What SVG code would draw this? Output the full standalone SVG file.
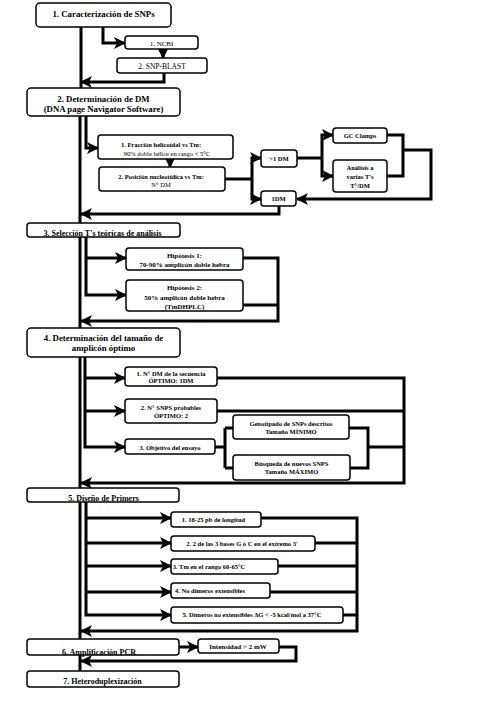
<svg xmlns="http://www.w3.org/2000/svg" width="504" height="703" viewBox="0 0 504 703">
<style>
.b{fill:#fff;stroke:#000;stroke-width:1.5}
.t{font-family:"Liberation Serif",serif;font-weight:bold;text-anchor:middle;fill:#000}
.m{font-size:8.8px}
.s{font-size:6.5px}
.n{font-weight:normal}
.c{fill:none;stroke:#000;stroke-width:3}
.a{marker-end:url(#ah)}
</style>
<defs>
<marker id="ah" markerUnits="userSpaceOnUse" markerWidth="12" markerHeight="12" refX="11" refY="6" orient="auto">
<path d="M0,0 L12,6 L0,12 L3,6 z" fill="#000"/>
</marker>
</defs>
<rect width="504" height="703" fill="#fff"/>
<g id="connectors">
<path class="c" d="M81,27 V88"/>
<path class="c" d="M80,116 V223"/>
<path class="c" d="M80,237 V328"/>
<path class="c" d="M80,357 V488"/>
<path class="c" d="M80,502 V639"/>
<path class="c" d="M80,655 V671"/>
<path class="c a" d="M103,27 V43 H125"/>
<path class="c a" d="M163,49 V58"/>
<path class="c a" d="M164,73 V82 H81"/>
<path class="c a" d="M86,116 V148 H98"/>
<path class="c a" d="M170,159 V167"/>
<path class="c" d="M225,179 H252"/>
<path class="c a" d="M252,179 V158 H261"/>
<path class="c a" d="M252,179 V199 H261"/>
<path class="c" d="M297,158 H322"/>
<path class="c a" d="M322,158 V135 H333"/>
<path class="c a" d="M322,158 V176 H333"/>
<path class="c" d="M387,135 H403 V176 H387"/>
<path class="c a" d="M403,150 H431 V199 H297"/>
<path class="c a" d="M279,206 V214 H81"/>
<path class="c a" d="M86,237 V295 H126"/>
<path class="c a" d="M86,258 H126"/>
<path class="c a" d="M243,258 H278 V321 H81"/>
<path class="c" d="M243,305 H278"/>
<path class="c a" d="M85,357 V447 H125"/>
<path class="c a" d="M85,378 H125"/>
<path class="c a" d="M85,411 H125"/>
<path class="c a" d="M217,378 H404 V483 H81"/>
<path class="c" d="M217,411 H404"/>
<path class="c" d="M215,447 H225 M225,428 V468 M225,428 H233 M225,468 H233"/>
<path class="c" d="M349,428 H368 V468 H350 M368,447 H404"/>
<path class="c a" d="M86,502 V615 H171"/>
<path class="c a" d="M86,518 H171"/>
<path class="c a" d="M86,543 H171"/>
<path class="c a" d="M86,566 H171"/>
<path class="c a" d="M86,592 H171"/>
<path class="c a" d="M261,518 H357 V631 H81"/>
<path class="c" d="M315,543 H357 M278,566 H357 M270,592 H357 M343,615 H357"/>
<path class="c a" d="M179,647 H198"/>
<path class="c a" d="M279,647 H296 V661 H81"/>
</g>
<g id="n1"><rect class="b" x="36" y="3" width="135" height="24" rx="4"/><text class="t m" x="103.5" y="17">1. Caracterización de SNPs</text></g>
<g id="n1a"><rect class="b" x="125" y="36" width="73" height="13" rx="3"/><text class="t s n" style="font-size:7px" x="161.5" y="46">1. NCBI</text></g>
<g id="n1b"><rect class="b" x="117" y="58" width="90" height="15" rx="3"/><text class="t s n" style="font-size:7.5px" x="162" y="68.5">2. SNP-BLAST</text></g>
<g id="n2"><rect class="b" x="27" y="88" width="153" height="28" rx="4"/><text class="t m" x="103.5" y="102">2. Determinación de DM</text><text class="t m" x="103.5" y="112">(DNA page Navigator Software)</text></g>
<g id="n2a"><rect class="b" x="98" y="135" width="135" height="24" rx="3"/><text class="t s" x="161" y="147">1. Fracción helicoidal vs Tm:</text><text class="t s n" x="167" y="156">90% doble hélice en rango &lt; 5°C</text></g>
<g id="n2b"><rect class="b" x="99" y="167" width="126" height="24" rx="3"/><text class="t s" x="161" y="179">2. Posición nucleotídica vs Tm:</text><text class="t s n" x="161" y="187">N° DM</text></g>
<g id="n2c"><rect class="b" x="261" y="150" width="36" height="17" rx="3"/><text class="t s" x="279" y="160.5">&gt;1 DM</text></g>
<g id="n2d"><rect class="b" x="261" y="191" width="35" height="15" rx="3"/><text class="t s" x="278.5" y="201">1DM</text></g>
<g id="n2e"><rect class="b" x="333" y="128" width="54" height="15" rx="3"/><text class="t s" x="360" y="137.5">GC Clamps</text></g>
<g id="n2f"><rect class="b" x="333" y="160" width="54" height="32" rx="3"/><text class="t s" x="360" y="170">Análisis a</text><text class="t s" x="360" y="179">varias T's</text><text class="t s" x="360" y="188">T°/DM</text></g>
<g id="n3"><rect class="b" x="27" y="223" width="153" height="14" rx="3"/><text class="t m" style="font-size:8px" x="102.5" y="236">3. Selección T's teóricas de análisis</text></g>
<g id="n3a"><rect class="b" x="126" y="248" width="117" height="22" rx="3"/><text class="t s" style="font-size:7px" x="184.5" y="258">Hipótesis 1:</text><text class="t s" style="font-size:7px" x="184.5" y="267">70-90% amplicón doble hebra</text></g>
<g id="n3b"><rect class="b" x="126" y="280" width="117" height="31" rx="3"/><text class="t s" style="font-size:7px" x="184.5" y="290">Hipótesis 2:</text><text class="t s" style="font-size:7px" x="184.5" y="300">50% amplicón doble hebra</text><text class="t s" style="font-size:7px" x="184.5" y="308.5">(TmDHPLC)</text></g>
<g id="n4"><rect class="b" x="27" y="328" width="153" height="29" rx="4"/><text class="t m" x="103.5" y="341">4. Determinación del tamaño de</text><text class="t m" x="103.5" y="351">amplicón óptimo</text></g>
<g id="n4a"><rect class="b" x="125" y="367" width="92" height="19" rx="3"/><text class="t s" x="171" y="375.5">1. N° DM de la secuencia</text><text class="t s" x="171" y="383">ÓPTIMO: 1DM</text></g>
<g id="n4b"><rect class="b" x="125" y="399" width="92" height="24" rx="3"/><text class="t s" x="171" y="409.5">2. N° SNPS probables</text><text class="t s" x="171" y="417.5">ÓPTIMO: 2</text></g>
<g id="n4c"><rect class="b" x="125" y="439" width="90" height="15" rx="3"/><text class="t s" x="170" y="449.5">3. Objetivo del ensayo</text></g>
<g id="n4d"><rect class="b" x="233" y="415" width="116" height="24" rx="3"/><text class="t s" x="291" y="426">Genotipado de SNPs descritos</text><text class="t s" x="291" y="433.5">Tamaño MÍNIMO</text></g>
<g id="n4e"><rect class="b" x="233" y="455" width="117" height="25" rx="3"/><text class="t s" x="291.5" y="466">Búsqueda de nuevos SNPS</text><text class="t s" x="291.5" y="474">Tamaño MÁXIMO</text></g>
<g id="n5"><rect class="b" x="27" y="488" width="152" height="14" rx="3"/><text class="t m" style="font-size:8px" x="103.5" y="501">5. Diseño de Primers</text></g>
<g id="n5a"><rect class="b" x="171" y="512" width="90" height="15" rx="3"/><text class="t s" x="213.5" y="521.5">1. 18-25 pb de longitud</text></g>
<g id="n5b"><rect class="b" x="171" y="536" width="144" height="15" rx="3"/><text class="t s" x="242" y="545.5">2. 2 de las 3 bases G ó C en el extremo 3'</text></g>
<g id="n5c"><rect class="b" x="171" y="559" width="107" height="15" rx="3"/><text class="t s" x="209" y="568.5">3. Tm en el rango 60-65°C</text></g>
<g id="n5d"><rect class="b" x="171" y="583" width="99" height="15" rx="3"/><text class="t s" x="210" y="592.5">4. No dímeros extensibles</text></g>
<g id="n5e"><rect class="b" x="171" y="607" width="172" height="16" rx="3"/><text class="t s" x="252" y="617">5. Dímeros no extensibles ΔG &lt; -5 kcal/mol a 37°C</text></g>
<g id="n6"><rect class="b" x="27" y="639" width="152" height="16" rx="3"/><text class="t m" style="font-size:8px" x="99" y="654.5">6. Amplificación PCR</text></g>
<g id="n6a"><rect class="b" x="198" y="639" width="81" height="14" rx="3"/><text class="t s" style="font-size:7px" x="238" y="649">Intensidad &gt; 2  mW</text></g>
<g id="n7"><rect class="b" x="27" y="671" width="152" height="16" rx="3"/><text class="t m" style="font-size:8px" x="102.5" y="683.5">7. Heteroduplexización</text></g>
</svg>
